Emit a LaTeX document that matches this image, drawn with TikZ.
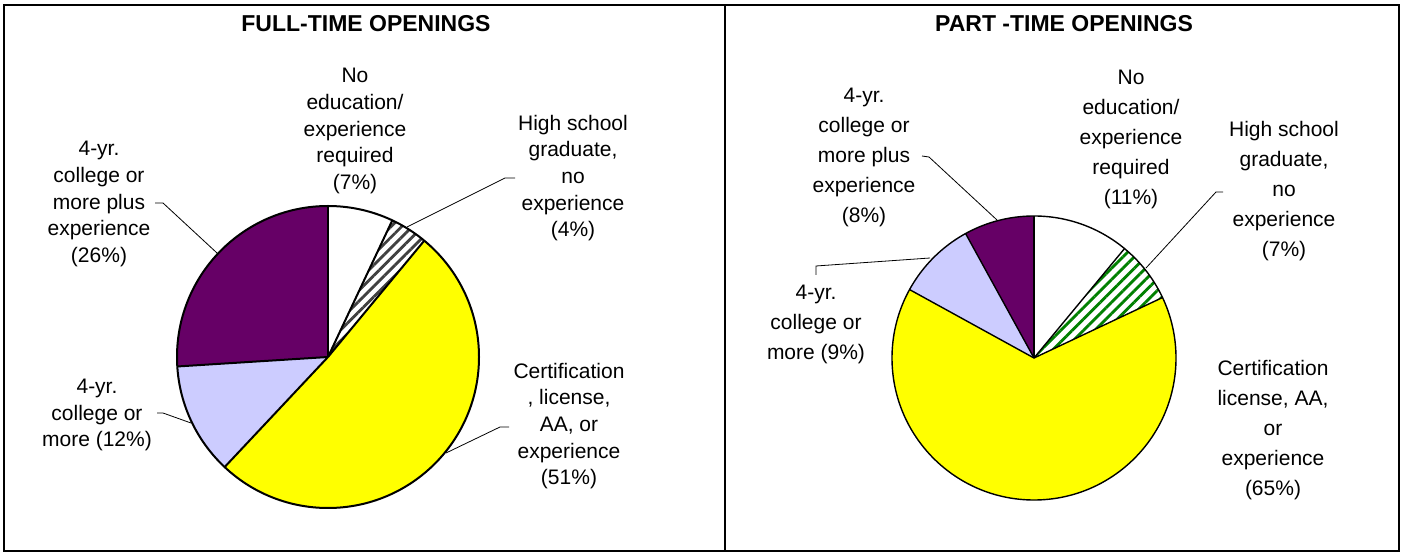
\documentclass[tikz,border=0pt]{standalone}
\usepackage{fontspec}
\setmainfont{Liberation Sans}
\usetikzlibrary{patterns.meta}
\definecolor{plum}{HTML}{660066}
\definecolor{lav}{HTML}{CCCCFF}
\definecolor{yel}{HTML}{FFFF00}
\definecolor{hgreen}{HTML}{008000}
\begin{document}
\begin{tikzpicture}[x=1pt,y=1pt,
  ftslice/.style={draw=black,line width=2pt,line join=round},
  ptslice/.style={draw=black,line width=1.4pt,line join=round},
  ftlbl/.style={align=center,inner sep=0pt,font=\fontsize{21}{26.7}\selectfont},
  ptlbl/.style={align=center,inner sep=0pt,font=\fontsize{21}{30}\selectfont},
  ttl/.style={inner sep=0pt,font=\fontsize{23}{27}\selectfont\bfseries},
  leader/.style={draw=black,line width=0.8pt}]
\useasboundingbox (0,0) rectangle (1403,554);
\fill[white] (0,0) rectangle (1403,554);
% frame
\draw[line width=2pt] (4,3) rectangle (1399,549);
\draw[line width=1.5pt] (725,3) -- (725,549);
% titles
\node[ttl] (ftt) at (366,530) {FULL-TIME OPENINGS};
\node[ttl] (ptt) at (1064,530) {PART -TIME OPENINGS};
% ---------------- full-time pie
\coordinate (ftc) at (328,197);
\fill[white] (ftc) -- ++(90:151) arc[start angle=90,end angle=64.8,radius=151] -- cycle;
\fill[white] (ftc) -- ++(64.8:151) arc[start angle=64.8,end angle=50.4,radius=151] -- cycle;
\fill[pattern={Lines[angle=45,distance=7.5pt,line width=2.8pt]},pattern color=black!75] (ftc) -- ++(64.8:151) arc[start angle=64.8,end angle=50.4,radius=151] -- cycle;
\fill[yel] (ftc) -- ++(50.4:151) arc[start angle=50.4,end angle=-133.2,radius=151] -- cycle;
\fill[lav] (ftc) -- ++(-133.2:151) arc[start angle=-133.2,end angle=-176.4,radius=151] -- cycle;
\fill[plum] (ftc) -- ++(-176.4:151) arc[start angle=-176.4,end angle=-270,radius=151] -- cycle;
\foreach \a in {90,64.8,50.4,-133.2,-176.4}{\draw[ftslice] (ftc) -- ++(\a:151);}
\draw[ftslice] (ftc) circle[radius=151];
% labels
\node[ftlbl] (f1) at (355,423) {No\\education/\\experience\\required\\(7\%)};
\node[ftlbl] (f2) at (573,376) {High school\\graduate,\\no\\experience\\(4\%)};
\node[ftlbl] (f3) at (569,128) {Certification\\, license,\\AA, or\\experience\\(51\%)};
\node[ftlbl] (f4) at (97,139) {4-yr.\\college or\\more (12\%)};
\node[ftlbl] (f5) at (99,350) {4-yr.\\college or\\more plus\\experience\\(26\%)};
\coordinate (f2a) at (515,376); \coordinate (f2b) at (505,376); \coordinate (f2c) at (407,327);
\coordinate (f3a) at (509,127); \coordinate (f3b) at (500,127); \coordinate (f3c) at (446,101);
\coordinate (f4a) at (157,141); \coordinate (f4b) at (163,141); \coordinate (f4c) at (191,131);
\coordinate (f5a) at (155,351); \coordinate (f5b) at (163,351); \coordinate (f5c) at (217,301);
\draw[leader] (f2a) -- (f2b) -- (f2c);
\draw[leader] (f3a) -- (f3b) -- (f3c);
\draw[leader] (f4a) -- (f4b) -- (f4c);
\draw[leader] (f5a) -- (f5b) -- (f5c);
% ---------------- part-time pie
\coordinate (ptc) at (1034,196);
\fill[white] (ptc) -- ++(90:142) arc[start angle=90,end angle=50.4,radius=142] -- cycle;
\fill[white] (ptc) -- ++(50.4:142) arc[start angle=50.4,end angle=25.2,radius=142] -- cycle;
\fill[pattern={Lines[angle=45,distance=8pt,line width=2.8pt]},pattern color=hgreen] (ptc) -- ++(50.4:142) arc[start angle=50.4,end angle=25.2,radius=142] -- cycle;
\fill[yel] (ptc) -- ++(25.2:142) arc[start angle=25.2,end angle=-208.8,radius=142] -- cycle;
\fill[lav] (ptc) -- ++(-208.8:142) arc[start angle=-208.8,end angle=-241.2,radius=142] -- cycle;
\fill[plum] (ptc) -- ++(-241.2:142) arc[start angle=-241.2,end angle=-270,radius=142] -- cycle;
\foreach \a in {90,50.4,25.2,-208.8,-241.2}{\draw[ptslice] (ptc) -- ++(\a:142);}
\draw[ptslice] (ptc) circle[radius=142];
\node[ptlbl] (p1) at (1131,415) {No\\education/\\experience\\required\\(11\%)};
\node[ptlbl] (p2) at (1284,363) {High school\\graduate,\\no\\experience\\(7\%)};
\node[ptlbl] (p3) at (1273,124) {Certification\\license, AA,\\or\\experience\\(65\%)};
\node[ptlbl] (p4) at (816,230) {4-yr.\\college or\\more (9\%)};
\node[ptlbl] (p5) at (864,397) {4-yr.\\college or\\more plus\\experience\\(8\%)};
\coordinate (p2a) at (1223,362); \coordinate (p2b) at (1216,362); \coordinate (p2c) at (1146,286);
\coordinate (p4a) at (816,279); \coordinate (p4b) at (816,288); \coordinate (p4c) at (930,296);
\coordinate (p5a) at (922,398); \coordinate (p5b) at (929,397); \coordinate (p5c) at (997,334);
\draw[leader] (p2a) -- (p2b) -- (p2c);
\draw[leader] (p4a) -- (p4b) -- (p4c);
\draw[leader] (p5a) -- (p5b) -- (p5c);
\end{tikzpicture}
\end{document}
